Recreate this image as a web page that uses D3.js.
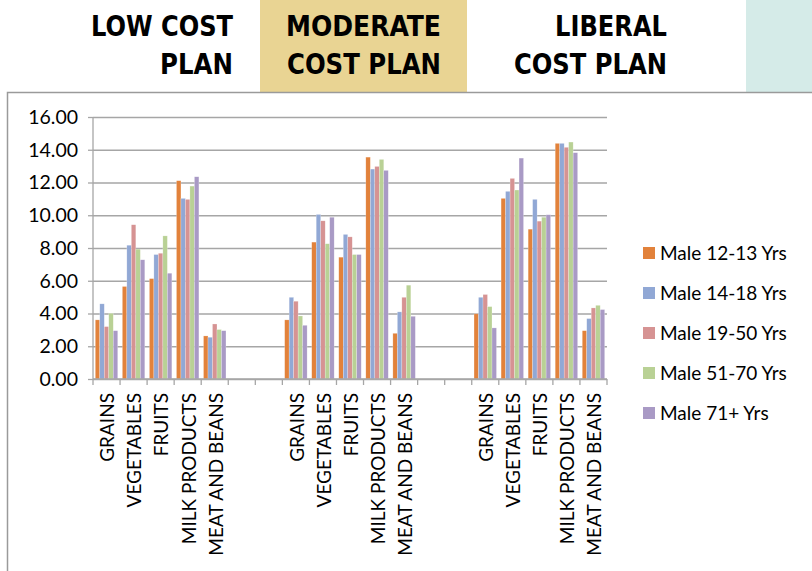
<!DOCTYPE html>
<html>
<head>
<meta charset="utf-8">
<script src="https://cdn.jsdelivr.net/npm/d3@7"></script>
<style>
  html, body { margin: 0; padding: 0; background: #fff; }
  svg { display: block; }
</style>
</head>
<body>
<svg id="chart" width="812" height="571"></svg>
<script>
// ---- data ----
const planLine1 = ["LOW COST", "MODERATE", "LIBERAL"];
const planLine2 = ["PLAN", "COST PLAN", "COST PLAN"];
const foods = ["GRAINS", "VEGETABLES", "FRUITS", "MILK PRODUCTS", "MEAT AND BEANS"];
const seriesNames = ["Male 12-13 Yrs", "Male 14-18 Yrs", "Male 19-50 Yrs", "Male 51-70 Yrs", "Male 71+ Yrs"];
const seriesColors = ["#e2823b", "#91a8d5", "#d69393", "#b9d195", "#a99ac5"];
// values: low cost (5 foods), moderate (5 foods), liberal (5 foods)
const male12_13 = [3.61, 5.65, 6.13, 12.11, 2.63,  3.61, 8.36, 7.44, 13.55, 2.79,  3.98, 11.03, 9.15, 14.39, 2.95];
const male14_18 = [4.59, 8.17, 7.60, 11.03, 2.55,  4.99, 10.05, 8.83, 12.82, 4.10,  4.99, 11.46, 10.97, 14.39, 3.69];
const male19_50 = [3.20, 9.42, 7.68, 10.97, 3.36,  4.75, 9.66, 8.68, 12.98, 4.99,  5.16, 12.25, 9.64, 14.15, 4.34];
const male51_70 = [4.01, 7.93, 8.74, 11.78, 3.02,  3.85, 8.26, 7.60, 13.41, 5.73,  4.42, 11.54, 9.88, 14.47, 4.50];
const male71    = [2.95, 7.28, 6.46, 12.35, 2.95,  3.28, 9.88, 7.60, 12.74, 3.83,  3.12, 13.49, 10.03, 13.82, 4.24];
const seriesValues = [male12_13, male14_18, male19_50, male51_70, male71];
const yTicks = [0, 2, 4, 6, 8, 10, 12, 14, 16];

// ---- layout ----
const svg = d3.select("#chart");
const gapSlots = 2;
const slotsPerPlan = foods.length + gapSlots;
const nSlots = planLine1.length * foods.length + (planLine1.length - 1) * gapSlots; // 19
const plotLeft = 93, plotRight = 607, plotTop = 117, plotBottom = 379;

const x = d3.scaleBand().domain(d3.range(nSlots)).range([plotLeft, plotRight]).padding(0);
const x1 = d3.scaleBand().domain(d3.range(seriesNames.length)).range([2.3, x.bandwidth() - 2.3]).padding(0);
const y = d3.scaleLinear().domain([0, 16]).range([plotBottom, plotTop]);

// header boxes
svg.append("rect").attr("x", 260).attr("y", 0).attr("width", 207).attr("height", 93).attr("fill", "#e9d493");
svg.append("rect").attr("x", 746).attr("y", 0).attr("width", 66).attr("height", 93).attr("fill", "#d5ebe8");

// header text
const headerFont = "'DejaVu Sans', sans-serif";
const headerRight = [233, 441, 667];
const line1Width = [142, 155, 112];
const line2Width = [73, 154, 153];
const hdr = svg.append("g").attr("font-family", headerFont).attr("font-weight", "bold")
  .attr("font-size", 29).attr("font-stretch", "condensed").attr("fill", "#000").attr("text-anchor", "end");
planLine1.forEach((t, i) => {
  hdr.append("text").attr("x", headerRight[i]).attr("y", 36)
    .attr("textLength", line1Width[i]).attr("lengthAdjust", "spacingAndGlyphs").text(t);
  hdr.append("text").attr("x", headerRight[i]).attr("y", 74)
    .attr("textLength", line2Width[i]).attr("lengthAdjust", "spacingAndGlyphs").text(planLine2[i]);
});

// chart border
svg.append("rect").attr("x", 7.5).attr("y", 92.5).attr("width", 830).attr("height", 520)
  .attr("fill", "#fff").attr("stroke", "#9a9a9a").attr("stroke-width", 1.5);

const font = "Lato, 'Open Sans', sans-serif";

// gridlines + y axis
const yAxis = d3.axisLeft(y).tickValues(yTicks).tickFormat(d3.format(".2f"))
  .tickSize(-(plotRight - plotLeft)).tickSizeOuter(0).tickPadding(15);
const gy = svg.append("g").attr("transform", `translate(${plotLeft},0)`).call(yAxis);
gy.select(".domain").remove();
gy.selectAll(".tick line").attr("stroke", "#a6a6a6").attr("stroke-width", 1.3);
gy.selectAll(".tick").append("line").attr("x1", -5).attr("x2", 0).attr("stroke", "#a6a6a6").attr("stroke-width", 1.3);
gy.selectAll(".tick text").attr("font-family", font).attr("font-size", 19.5).attr("fill", "#000");
svg.append("line").attr("x1", plotLeft).attr("x2", plotLeft).attr("y1", plotTop).attr("y2", plotBottom)
  .attr("stroke", "#a6a6a6").attr("stroke-width", 1.3);

// bars
const barData = [];
planLine1.forEach((p, pi) => {
  foods.forEach((f, fi) => {
    const slot = pi * slotsPerPlan + fi;
    seriesValues.forEach((vals, si) => {
      barData.push({ slot, si, v: vals[pi * foods.length + fi] });
    });
  });
});
svg.append("g").selectAll("rect").data(barData).join("rect")
  .attr("x", d => x(d.slot) + x1(d.si))
  .attr("y", d => y(d.v))
  .attr("width", x1.bandwidth())
  .attr("height", d => y(0) - y(d.v))
  .attr("fill", d => seriesColors[d.si])
  .attr("stroke", "#ffffff").attr("stroke-opacity", 0.45).attr("stroke-width", 0.5);

// x axis line and ticks
svg.append("line").attr("x1", plotLeft).attr("x2", plotRight).attr("y1", plotBottom).attr("y2", plotBottom)
  .attr("stroke", "#a6a6a6").attr("stroke-width", 1.3);
svg.append("g").selectAll("line").data(d3.range(nSlots + 1)).join("line")
  .attr("x1", i => plotLeft + i * x.bandwidth()).attr("x2", i => plotLeft + i * x.bandwidth())
  .attr("y1", plotBottom).attr("y2", plotBottom + 6)
  .attr("stroke", "#a6a6a6").attr("stroke-width", 1.3);

// category labels
const labels = [];
planLine1.forEach((p, pi) => foods.forEach((f, fi) => labels.push({ slot: pi * slotsPerPlan + fi, t: f })));
svg.append("g").selectAll("text").data(labels).join("text")
  .attr("transform", d => `translate(${x(d.slot) + x.bandwidth() / 2 + 1},${plotBottom + 14}) rotate(-90)`)
  .attr("text-anchor", "end").attr("dy", "0.36em")
  .attr("font-family", font).attr("font-size", 19).attr("fill", "#000")
  .text(d => d.t);

// legend
const lg = svg.append("g");
seriesNames.forEach((s, i) => {
  const cy = 253 + i * 40;
  lg.append("rect").attr("x", 643).attr("y", cy - 6).attr("width", 12).attr("height", 12).attr("fill", seriesColors[i]);
  lg.append("text").attr("x", 660).attr("y", cy).attr("dy", "0.36em")
    .attr("font-family", font).attr("font-size", 19).attr("fill", "#000").text(s);
});
</script>
</body>
</html>
